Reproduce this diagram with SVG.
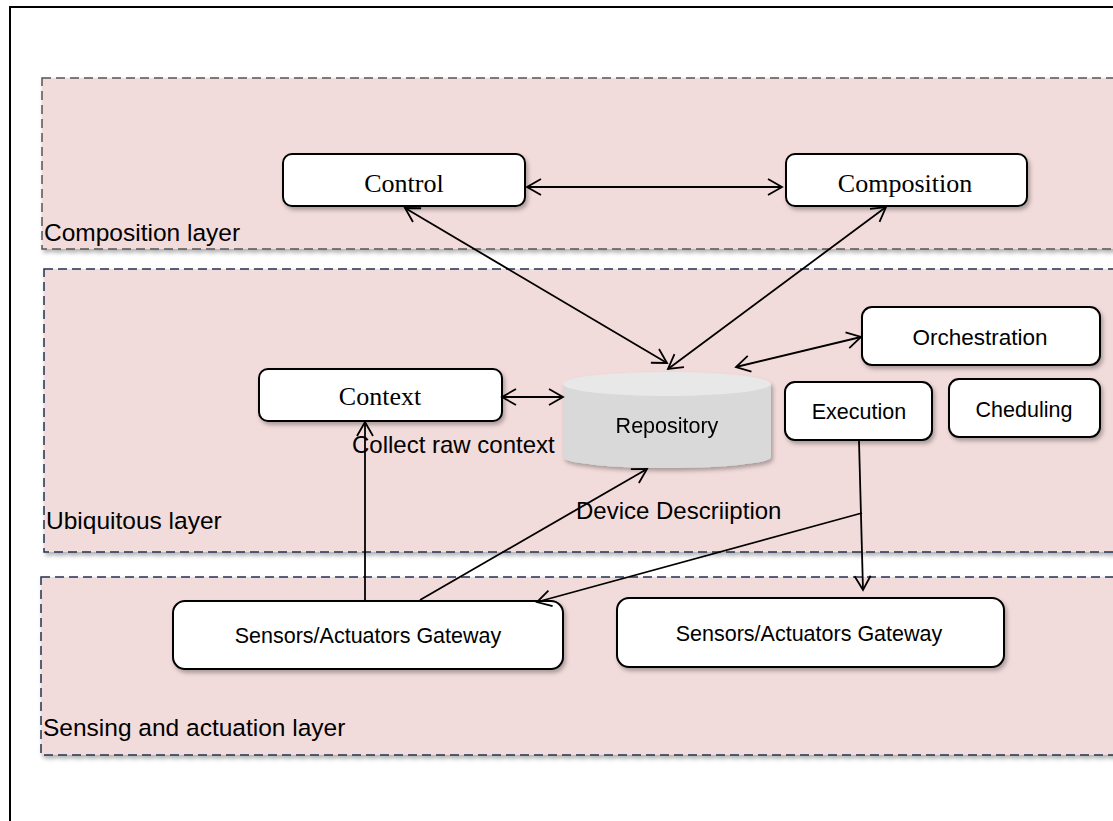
<svg xmlns="http://www.w3.org/2000/svg" width="1113" height="821" viewBox="0 0 1113 821">
<defs>
<style>
.layer{fill:#f2dcdb;stroke-width:1.5;stroke-dasharray:9 5}
.lgrey{stroke:#555555}
.lnavy{stroke:#1f3350}
.box{fill:#ffffff;stroke:#000000;stroke-width:2}
.serif{font-family:"Liberation Serif","Times New Roman",serif;font-size:26px;fill:#000;text-anchor:middle}
.sans{font-family:"Liberation Sans",Arial,sans-serif;font-size:21.5px;fill:#000;text-anchor:middle}
.lbl{font-family:"Liberation Sans",Arial,sans-serif;font-size:24.5px;fill:#000}
.big{font-family:"Liberation Sans",Arial,sans-serif;font-size:24px;fill:#000}
.conn{fill:none;stroke:#000;stroke-width:1.8}
</style>
<filter id="sh" x="-10%" y="-20%" width="130%" height="160%">
<feDropShadow dx="2" dy="3" stdDeviation="2" flood-color="#000" flood-opacity="0.3"/>
</filter>
<marker id="ah" markerUnits="userSpaceOnUse" markerWidth="20" markerHeight="20" viewBox="-16 -10 20 20" refX="0" refY="0" orient="auto-start-reverse">
<path d="M-14,-8 L0,0 L-14,8" fill="none" stroke="#000" stroke-width="1.8"/>
</marker>
</defs>
<rect x="0" y="0" width="1113" height="821" fill="#ffffff"/>
<rect x="10" y="7" width="1200" height="900" fill="none" stroke="#000" stroke-width="2"/>

<g id="composition-layer">
<rect class="layer lgrey" x="42" y="78" width="1100" height="171" filter="url(#sh)"/>
<text class="lbl" x="44" y="241">Composition layer</text>
</g>
<g id="ubiquitous-layer">
<rect class="layer lnavy" x="44" y="269" width="1100" height="283" filter="url(#sh)"/>
<text class="lbl" x="46" y="529">Ubiquitous layer</text>
</g>
<g id="sensing-layer">
<rect class="layer lnavy" x="41" y="577" width="1100" height="178" filter="url(#sh)"/>
<text class="lbl" x="43" y="736">Sensing and actuation layer</text>
</g>

<g id="control">
<rect class="box" x="283" y="154" width="242" height="52" rx="9" filter="url(#sh)"/>
<text class="serif" x="404" y="192">Control</text>
</g>
<g id="composition">
<rect class="box" x="786" y="154" width="241" height="52" rx="9" filter="url(#sh)"/>
<text class="serif" x="905" y="192">Composition</text>
</g>
<g id="context">
<rect class="box" x="259" y="369" width="243" height="52" rx="9" filter="url(#sh)"/>
<text class="serif" x="380" y="405">Context</text>
</g>
<g id="repository" filter="url(#sh)">
<path d="M563,384 L563,457 A104,11 0 0 0 771,457 L771,384 Z" fill="#d9d9d9"/>
<ellipse cx="667" cy="384" rx="104" ry="12" fill="#e8e8e8"/>
<text class="sans" x="667" y="433">Repository</text>
</g>
<g id="orchestration">
<rect class="box" x="862" y="307" width="238" height="58" rx="10" filter="url(#sh)"/>
<text class="sans" x="980" y="345" style="font-size:22.5px">Orchestration</text>
</g>
<g id="execution">
<rect class="box" x="785" y="382" width="147" height="58" rx="10" filter="url(#sh)"/>
<text class="sans" x="859" y="419">Execution</text>
</g>
<g id="cheduling">
<rect class="box" x="949" y="379" width="151" height="58" rx="10" filter="url(#sh)"/>
<text class="sans" x="1024" y="417">Cheduling</text>
</g>
<g id="gateway1">
<rect class="box" x="173" y="601" width="390" height="68" rx="12" filter="url(#sh)"/>
<text class="sans" x="368" y="643">Sensors/Actuators Gateway</text>
</g>
<g id="gateway2">
<rect class="box" x="617" y="598" width="387" height="69" rx="12" filter="url(#sh)"/>
<text class="sans" x="809" y="641">Sensors/Actuators Gateway</text>
</g>

<g id="connectors">
<line class="conn" x1="527" y1="187" x2="782" y2="187" marker-start="url(#ah)" marker-end="url(#ah)"/>
<line class="conn" x1="405" y1="208" x2="667" y2="363" marker-start="url(#ah)" marker-end="url(#ah)"/>
<line class="conn" x1="886" y1="207" x2="668" y2="369" marker-start="url(#ah)" marker-end="url(#ah)"/>
<line class="conn" x1="502" y1="397" x2="563" y2="397" marker-start="url(#ah)" marker-end="url(#ah)"/>
<line class="conn" x1="736" y1="367" x2="861" y2="337" marker-start="url(#ah)" marker-end="url(#ah)"/>
<line class="conn" x1="365" y1="600" x2="365" y2="422" marker-end="url(#ah)"/>
<line class="conn" x1="420" y1="600" x2="647" y2="469" marker-end="url(#ah)"/>
<line class="conn" x1="859" y1="441" x2="863" y2="590" marker-end="url(#ah)"/>
<line class="conn" x1="862" y1="513" x2="537" y2="602" marker-end="url(#ah)"/>
</g>

<text class="big" x="352" y="453">Collect raw context</text>
<text class="big" x="576" y="519">Device Descriiption</text>
</svg>
